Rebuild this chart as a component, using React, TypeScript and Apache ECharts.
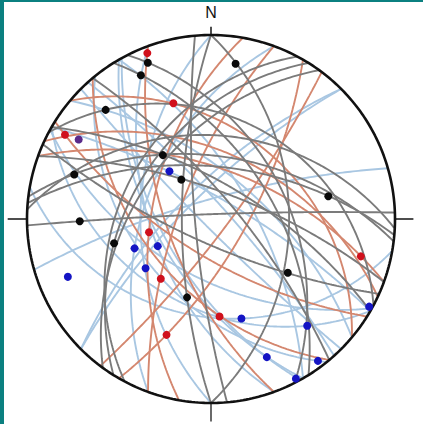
import React, { useEffect, useRef } from "react";
import * as echarts from "echarts";

// Fault planes, right-hand-rule strike / dip (degrees)
const grayStrikes = [333, 328, 0, 298, 300, 290, 277, 268, 212, 180, 114, 275, 208, 216, 175, 273, 320];
const grayDips = [45, 53, 44, 32, 67, 72, 52, 87, 43, 72, 75, 58, 38, 47, 80, 41, 75];

const salmonStrikes = [160, 310, 122, 190, 200, 30, 140, 290, 295, 37];
const salmonDips = [63, 39, 68, 54, 70, 69, 50, 59, 50, 80];

const blueStrikes = [300, 200, 160, 180, 100, 150, 120, 141, 151, 119, 254, 225, 225, 330, 310, 318, 135];
const blueDips = [76, 50, 54, 48, 34, 57, 39, 45, 60, 55, 78, 75, 70, 65, 62, 80, 85];

// Striae, trend / plunge (degrees)
const blackTrends = [338, 334, 9, 316, 323, 323, 288, 269, 256, 197, 125, 79];
const blackPlunges = [5, 8, 9, 11, 43, 60, 14, 19, 33, 42, 36, 24];

const redTrends = [339, 342, 300, 258, 220, 201, 175, 104];
const redPlunges = [2, 23, 5, 52, 44, 22, 34, 10];

const blueTrends = [319, 248, 249, 243, 233, 163, 158, 138, 143, 152, 119];
const bluePlunges = [52, 10, 42, 54, 42, 31, 12, 14, 2, 1, 1];

const purpleTrends = [301];
const purplePlunges = [10];

const RAD = Math.PI / 180;

// Lower-hemisphere stereographic projection of a unit vector (east, north, down)
function project(e: number, n: number, d: number): [number, number] {
  return [e / (1 + d), n / (1 + d)];
}

function greatCircle(strike: number, dip: number): [number, number][] {
  const s = strike * RAD;
  const dd = (strike + 90) * RAD;
  const dp = dip * RAD;
  const pts: [number, number][] = [];
  for (let i = 0; i <= 180; i++) {
    const t = i * RAD;
    const e = Math.cos(t) * Math.sin(s) + Math.sin(t) * Math.sin(dd) * Math.cos(dp);
    const n = Math.cos(t) * Math.cos(s) + Math.sin(t) * Math.cos(dd) * Math.cos(dp);
    const dn = Math.sin(t) * Math.sin(dp);
    pts.push(project(e, n, dn));
  }
  return pts;
}

function lineation(trend: number, plunge: number): [number, number] {
  const t = trend * RAD;
  const p = plunge * RAD;
  return project(Math.sin(t) * Math.cos(p), Math.cos(t) * Math.cos(p), Math.sin(p));
}

function planeSeries(strikes: number[], dips: number[], color: string, z: number) {
  return strikes.map((s, i) => ({
    type: "line",
    data: greatCircle(s, dips[i]),
    showSymbol: false,
    symbol: "none",
    silent: true,
    z,
    lineStyle: { color, width: 1.9 },
  }));
}

function pointSeries(trends: number[], plunges: number[], color: string) {
  return {
    type: "scatter",
    data: trends.map((t, i) => lineation(t, plunges[i])),
    symbolSize: 8,
    silent: true,
    z: 10,
    itemStyle: { color, opacity: 1 },
  };
}

const primitive: [number, number][] = [];
for (let a = 0; a <= 360; a += 1) primitive.push([Math.sin(a * RAD), Math.cos(a * RAD)]);

const tick = (pts: [number, number][], color: string) => ({
  type: "line",
  data: pts,
  showSymbol: false,
  symbol: "none",
  silent: true,
  z: 8,
  lineStyle: { color, width: 1.6 },
});

export default function App() {
  const ref = useRef<HTMLDivElement>(null);
  useEffect(() => {
    if (!ref.current) return;
    const chart = echarts.init(ref.current, undefined, { renderer: "svg" });
    chart.setOption({
      animation: false,
      backgroundColor: "#ffffff",
      grid: { left: 0, top: 0, width: 423, height: 424 },
      xAxis: { type: "value", min: -211 / 184, max: 212 / 184, show: false },
      yAxis: { type: "value", min: -205 / 184, max: 219 / 184, show: false },
      graphic: [
        { type: "rect", left: 0, top: 0, shape: { width: 423, height: 2 }, style: { fill: "#0b8080" }, z: 100 },
        { type: "rect", left: 0, top: 0, shape: { width: 4, height: 424 }, style: { fill: "#0b8080" }, z: 100 },
        {
          type: "text",
          x: 211,
          y: 12,
          z: 100,
          style: {
            text: "N",
            fill: "#111111",
            font: "16px 'Liberation Sans', Arial, sans-serif",
            align: "center",
            verticalAlign: "middle",
          },
        },
      ],
      series: [
        ...planeSeries(blueStrikes, blueDips, "#a9c7e2", 2),
        ...planeSeries(salmonStrikes, salmonDips, "#d4876f", 3),
        ...planeSeries(grayStrikes, grayDips, "#7b7b7b", 4),
        {
          type: "line",
          data: primitive,
          showSymbol: false,
          symbol: "none",
          silent: true,
          z: 9,
          lineStyle: { color: "#111111", width: 2.6 },
        },
        tick([[0, 1], [0, 1.045]], "#222222"),
        tick([[0, -1], [0, -1.1]], "#444444"),
        tick([[-1, 0], [-1.105, 0]], "#222222"),
        tick([[1, 0], [1.1, 0]], "#222222"),
        pointSeries(blueTrends, bluePlunges, "#1414c4"),
        pointSeries(redTrends, redPlunges, "#d0101c"),
        pointSeries(blackTrends, blackPlunges, "#0a0a0a"),
        pointSeries(purpleTrends, purplePlunges, "#5a2a8a"),
      ],
    });
    return () => chart.dispose();
  }, []);
  return (
    <div
      ref={ref}
      style={{ position: "fixed", left: 0, top: 0, width: 423, height: 424, background: "#ffffff" }}
    />
  );
}
